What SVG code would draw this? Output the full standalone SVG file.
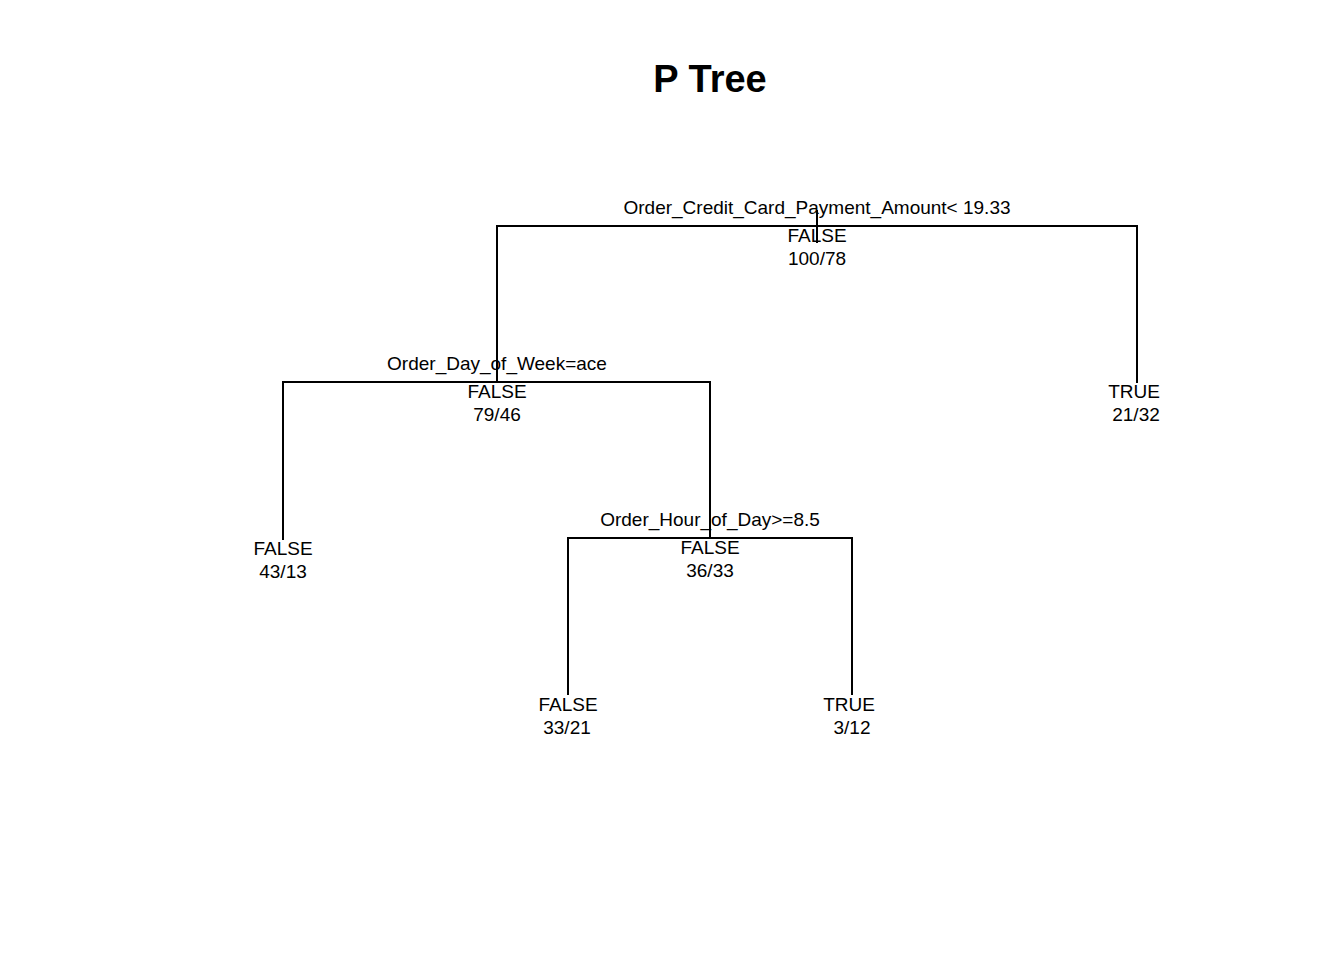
<svg xmlns="http://www.w3.org/2000/svg" width="1344" height="960" viewBox="0 0 1344 960">
<style>
  .t { font-family: "Liberation Sans", Arial, sans-serif; font-size: 19px; fill: #000; text-anchor: middle; }
  .title { font-family: "Liberation Sans", Arial, sans-serif; font-size: 38px; font-weight: bold; fill: #000; text-anchor: middle; }
  .e { stroke: #000; stroke-width: 2; fill: none; stroke-linecap: butt; }
</style>
<rect width="1344" height="960" fill="#fff"/>
<text class="title" x="710" y="92">P Tree</text>
<g id="connectors">
  <path class="e" d="M817 210 V243"/>
  <path class="e" d="M497 382 V226 H1137 V383"/>
  <path class="e" d="M283 540 V382 H710 V538"/>
  <path class="e" d="M568 695 V538 H852 V695"/>
</g>
<g id="node1">
  <text class="t" x="817" y="214">Order_Credit_Card_Payment_Amount&lt; 19.33</text>
  <text class="t" x="817" y="242">FALSE</text>
  <text class="t" x="817" y="265">100/78</text>
</g>
<g id="node2">
  <text class="t" x="497" y="370">Order_Day_of_Week=ace</text>
  <text class="t" x="497" y="398">FALSE</text>
  <text class="t" x="497" y="421">79/46</text>
</g>
<g id="node3">
  <text class="t" x="1134" y="398">TRUE</text>
  <text class="t" x="1136" y="421">21/32</text>
</g>
<g id="node4">
  <text class="t" x="283" y="555">FALSE</text>
  <text class="t" x="283" y="578">43/13</text>
</g>
<g id="node5">
  <text class="t" x="710" y="526">Order_Hour_of_Day&gt;=8.5</text>
  <text class="t" x="710" y="554">FALSE</text>
  <text class="t" x="710" y="577">36/33</text>
</g>
<g id="node6">
  <text class="t" x="568" y="711">FALSE</text>
  <text class="t" x="567" y="734">33/21</text>
</g>
<g id="node7">
  <text class="t" x="849" y="711">TRUE</text>
  <text class="t" x="852" y="734">3/12</text>
</g>
</svg>
